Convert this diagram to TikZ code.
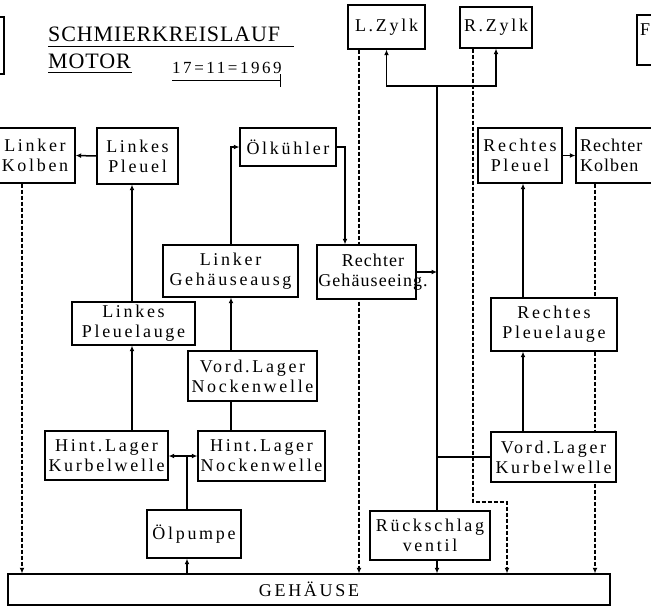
\documentclass[tikz,border=0pt]{standalone}
\usepackage{fontspec}
\setmainfont{Liberation Serif}
\newfontfamily\bxfont[LetterSpace=15]{Liberation Serif}
\newfontfamily\ttlfont[LetterSpace=4]{Liberation Serif}
\newfontfamily\rgfont[LetterSpace=6]{Liberation Serif}
\usetikzlibrary{arrows.meta,backgrounds}
\begin{document}
\begin{tikzpicture}[x=1pt,y=-1pt,
 box/.style={draw, line width=1.4pt, fill=white, inner sep=0pt, align=center, font=\bxfont\fontsize{18}{20}\selectfont},
 lbl/.style={inner sep=0pt, align=center, font=\bxfont\fontsize{18}{20}\selectfont},
 flow/.style={line width=1.5pt, -{Latex[length=5.5pt,width=5pt]}},
 link/.style={line width=1.5pt},
 ret/.style={line width=1.7pt, dash pattern=on 4pt off 2pt, -{Latex[length=5.5pt,width=5pt]}},
 ttl/.style={inner sep=0pt, anchor=base west, font=\ttlfont\fontsize{22}{24}\selectfont},
 dte/.style={inner sep=0pt, anchor=base west, font=\bxfont\fontsize{17}{20}\selectfont},
]
\useasboundingbox (0,0) rectangle (651,608);
\clip (0,0) rectangle (651,608);

% title
\node[ttl] (t1) at (48,41) {SCHMIERKREISLAUF};
\node[ttl] (t2) at (48,68) {MOTOR};
\node[dte] (t3) at (172,73) {17=11=1969};
\draw[line width=1pt] (48,46) -- (294,46);
\draw[line width=1pt] (48,72) -- (132,72);
\draw[line width=1pt] (172,80) -- (280,80);
\draw[line width=1pt] (280,74) -- (280,87);

% boxes
\node[box, minimum width=44pt, minimum height=57pt] (TL) at (-18,45.5) {};
\node[box, minimum width=63pt, minimum height=50pt] (TR) at (668.5,40) {};
\node[lbl, anchor=west] (TRt) at (640,30) {F};
\node[box, minimum width=77pt, minimum height=44pt] (LZ) at (386.5,27) {L.Zylk};
\node[box, minimum width=72pt, minimum height=41pt] (RZ) at (496,27.5) {R.Zylk};
\node[box, minimum width=80pt, minimum height=55pt] (LK) at (35,155.5) {Linker\\Kolben};
\node[box, minimum width=81pt, minimum height=56pt] (LP) at (137.5,156) {Linkes\\Pleuel};
\node[box, minimum width=96pt, minimum height=38pt] (OK) at (288,147) {Ölkühler};
\node[box, minimum width=84pt, minimum height=55pt] (RP) at (520,155.5) {Rechtes\\Pleuel};
\node[box, text width=96pt, inner xsep=4pt, align=left, minimum height=55pt, font=\rgfont\fontsize{18}{20}\selectfont] (RK) at (628,155.5) {Rechter\\Kolben};
\node[box, minimum width=135pt, minimum height=52pt] (LGA) at (230.5,271) {Linker\\Gehäuseausg};
\node[box, minimum width=99pt, minimum height=54pt] (RGE) at (366.5,272) {};
\node[lbl, font=\rgfont\fontsize{18}{20}\selectfont] (RGEt) at (373,272) {Rechter\\Gehäuseeing.};
\node[box, minimum width=123pt, minimum height=43pt] (LPA) at (133.5,323.5) {Linkes\\Pleuelauge};
\node[box, minimum width=126pt, minimum height=53pt] (RPA) at (554,324.5) {Rechtes\\Pleuelauge};
\node[box, minimum width=129pt, minimum height=50pt] (VLN) at (252.5,376) {Vord.Lager\\Nockenwelle};
\node[box, minimum width=123pt, minimum height=49pt] (HLK) at (106.5,455.5) {Hint.Lager\\Kurbelwelle};
\node[box, minimum width=127pt, minimum height=50pt] (HLN) at (261.5,456) {Hint.Lager\\Nockenwelle};
\node[box, minimum width=125pt, minimum height=50pt] (VLK) at (553.5,457) {Vord.Lager\\Kurbelwelle};
\node[box, minimum width=94pt, minimum height=48pt] (OP) at (194,534) {Ölpumpe};
\node[box, minimum width=120pt, minimum height=49pt] (RV) at (430,535.5) {Rückschlag\\ventil};
\node[box, minimum width=602pt, minimum height=31pt] (GH) at (309,589.5) {GEHÄUSE};

% helper coordinates
\coordinate (lpx) at (132,0);
\coordinate (j) at (187,456);
\coordinate (nx) at (231,0);
\coordinate (ox) at (345,0);
\coordinate (top) at (437,86);
\coordinate (rx) at (523,0);
\coordinate (d1) at (22,0);
\coordinate (d2) at (359,0);
\coordinate (d3) at (473,0);
\coordinate (d4) at (595,0);
\coordinate (bend) at (507,502);

% solid flow
\draw[flow] (HLK.north -| lpx) -- (LPA.south -| lpx);
\draw[flow] (LPA.north -| lpx) -- (LP.south -| lpx);
\draw[flow] (LP.west) -- (LK.east);
\draw[link] (OP.north -| j) -- (j);
\draw[flow] (j) -- (j -| HLK.east);
\draw[flow] (j) -- (j -| HLN.west);
\draw[flow] (GH.north -| j) -- (OP.south -| j);
\draw[link] (HLN.north -| nx) -- (VLN.south -| nx);
\draw[flow] (VLN.north -| nx) -- (LGA.south -| nx);
\draw[flow] (LGA.north -| nx) |- (OK.west);
\draw[flow] (OK.east) -| (RGE.north -| ox);
\draw[flow] (RGE.east) -- (RGE.east -| top);
\draw[link] (top) -- (RV.north -| top);
\draw[link] (VLK.west) -- (VLK.west -| top);
\draw[flow] (top) -| (LZ.south);
\draw[flow] (top) -| (RZ.south);
\draw[flow] (RV.south -| top) -- (GH.north -| top);
\draw[flow] (VLK.north -| rx) -- (RPA.south -| rx);
\draw[flow] (RPA.north -| rx) -- (RP.south -| rx);
\draw[flow] (RP.east) -- (RK.west);

% dashed returns behind boxes
\begin{pgfonlayer}{background}
\draw[ret] (LK.south -| d1) -- (GH.north -| d1);
\draw[ret] (LZ.south -| d2) -- (GH.north -| d2);
\draw[ret] (RZ.south -| d3) |- (bend) -- (GH.north -| bend);
\draw[ret] (RK.south -| d4) -- (GH.north -| d4);
\end{pgfonlayer}
\end{tikzpicture}
\end{document}
